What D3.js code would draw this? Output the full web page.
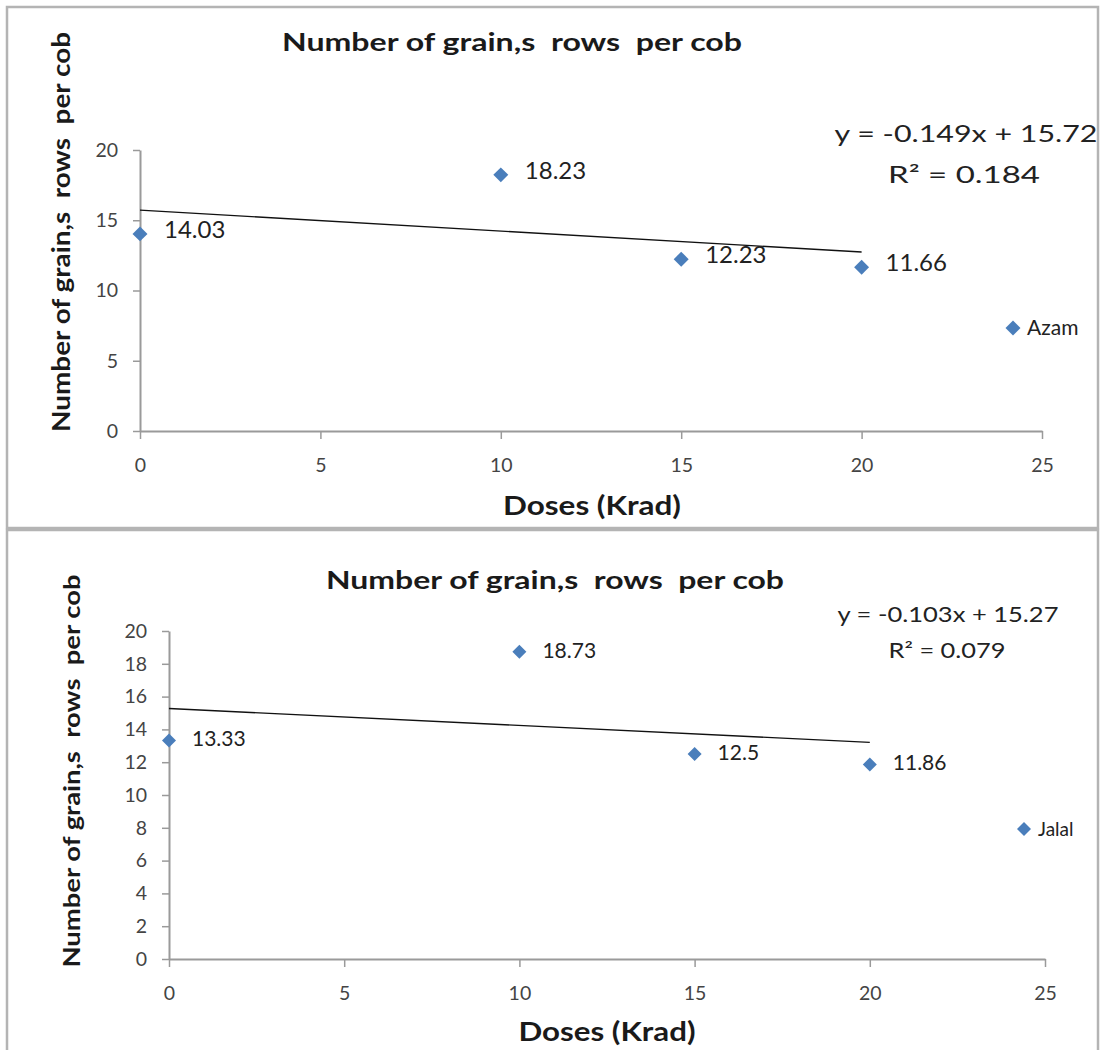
<!DOCTYPE html>
<html>
<head>
<meta charset="utf-8">
<script src="https://cdn.jsdelivr.net/npm/d3@7"></script>
<style>
  body { margin: 0; background: #fff; }
  svg { display: block; }
  text { font-family: Lato, "Open Sans", sans-serif; white-space: pre; }
</style>
</head>
<body>
<div id="chart"></div>
<script>
const WIDTH = 1100
const HEIGHT = 1050

// values
const doses = [0, 10, 15, 20]
const azamRows = [14.03, 18.23, 12.23, 11.66]
const jalalRows = [13.33, 18.73, 12.5, 11.86]
const azamTrend = [-0.149, 15.72]   // slope, intercept
const jalalTrend = [-0.103, 15.27]
const azamR2 = "0.184"
const jalalR2 = "0.079"
const xTicks = [0, 5, 10, 15, 20, 25]
const azamYTicks = [0, 5, 10, 15, 20]
const jalalYTicks = [0, 2, 4, 6, 8, 10, 12, 14, 16, 18, 20]
const chartTitle = "Number of grain,s  rows  per cob"
const yTitle = "Number of grain,s  rows  per cob"
const xTitle = "Doses (Krad)"

const BLUE = '#4a7ebb'
const AXIS = '#9a9a9a'

var svg = d3.select("#chart").append("svg")
    .attr("width", WIDTH)
    .attr("height", HEIGHT)

const drawPanel = (p) => {
    var g = svg.append("g")

    // panel frame
    g.append("rect")
        .attr("x", p.box[0]).attr("y", p.box[1])
        .attr("width", p.box[2] - p.box[0]).attr("height", p.box[3] - p.box[1])
        .attr("fill", "none")
        .attr("stroke", "#b4b4b4")
        .attr("stroke-width", 2.5)

    var xScale = d3.scaleLinear().domain([0, 25]).range(p.xRange)
    var yScale = d3.scaleLinear().domain([0, 20]).range(p.yRange)

    // axes
    var yAxis = g.append("g")
        .attr("transform", `translate(${p.xRange[0]},0)`)
        .call(d3.axisLeft(yScale).tickValues(p.yTicks).tickSize(7).tickPadding(15).tickSizeOuter(0))
    var xAxis = g.append("g")
        .attr("transform", `translate(0,${p.yRange[0]})`)
        .call(d3.axisBottom(xScale).tickValues(xTicks).tickSize(8).tickPadding(19).tickSizeOuter(0))
    ;[xAxis, yAxis].forEach(ax => {
        ax.select(".domain").attr("stroke", AXIS).attr("stroke-width", 2)
        ax.selectAll(".tick line").attr("stroke", AXIS).attr("stroke-width", 1.5)
        ax.selectAll(".tick text")
            .attr("fill", "#444")
            .attr("font-size", p.tickSize + "px")
            .style("font-family", "Lato, sans-serif")
    })

    // linear trend line over the data range
    var slope = p.trend[0], intercept = p.trend[1]
    var ends = [d3.min(doses), d3.max(doses)]
    g.append("line")
        .attr("x1", xScale(ends[0])).attr("y1", yScale(slope * ends[0] + intercept))
        .attr("x2", xScale(ends[1])).attr("y2", yScale(slope * ends[1] + intercept))
        .attr("stroke", "#111")
        .attr("stroke-width", 1.4)

    var diamond = d3.symbol().type(d3.symbolSquare).size(p.marker)

    // points
    g.selectAll(".pt")
        .data(p.values)
        .enter()
        .append("path")
            .attr("class", "pt")
            .attr("d", diamond)
            .attr("fill", BLUE)
            .attr("transform", (d, i) => `translate(${xScale(doses[i])},${yScale(d)}) rotate(45)`)

    // data labels to the right of each point
    g.selectAll(".lbl")
        .data(p.values)
        .enter()
        .append("text")
            .attr("class", "lbl")
            .attr("x", (d, i) => xScale(doses[i]) + p.labelDx)
            .attr("y", d => yScale(d) + p.labelDy)
            .attr("font-size", p.labelSize + "px")
            .attr("fill", "#222")
            .text(d => String(d))

    // titles
    g.append("text")
        .attr("x", p.title[0]).attr("y", p.title[1])
        .attr("text-anchor", "middle")
        .attr("font-size", p.title[3] + "px")
        .attr("font-weight", "bold")
        .attr("fill", "#1a1a1a")
        .attr("textLength", p.title[2])
        .attr("lengthAdjust", "spacingAndGlyphs")
        .text(chartTitle)

    g.append("text")
        .attr("transform", `translate(${p.yTitle[0]},${p.yTitle[1]}) rotate(-90)`)
        .attr("text-anchor", "middle")
        .attr("font-size", p.yTitle[3] + "px")
        .attr("font-weight", "bold")
        .attr("fill", "#1a1a1a")
        .attr("textLength", p.yTitle[2])
        .attr("lengthAdjust", "spacingAndGlyphs")
        .text(yTitle)

    g.append("text")
        .attr("x", p.xTitle[0]).attr("y", p.xTitle[1])
        .attr("text-anchor", "middle")
        .attr("font-size", p.xTitle[3] + "px")
        .attr("font-weight", "bold")
        .attr("fill", "#1a1a1a")
        .attr("textLength", p.xTitle[2])
        .attr("lengthAdjust", "spacingAndGlyphs")
        .text(xTitle)

    // trend equation + R squared
    g.append("text")
        .attr("x", p.eq[0]).attr("y", p.eq[1])
        .attr("text-anchor", "middle")
        .attr("font-size", p.eq[3] + "px")
        .attr("fill", "#222")
        .attr("textLength", p.eq[2])
        .attr("lengthAdjust", "spacingAndGlyphs")
        .text(`y = ${slope}x + ${intercept}`)

    g.append("text")
        .attr("x", p.r2[0]).attr("y", p.r2[1])
        .attr("text-anchor", "middle")
        .attr("font-size", p.r2[3] + "px")
        .attr("fill", "#222")
        .attr("textLength", p.r2[2])
        .attr("lengthAdjust", "spacingAndGlyphs")
        .text(`R² = ${p.rsq}`)

    // legend
    var legend = g.append("g")
        .attr("transform", `translate(${p.legend[0]},${p.legend[1]})`)
    legend.append("path")
        .attr("d", diamond)
        .attr("fill", BLUE)
        .attr("transform", "rotate(45)")
    legend.append("text")
        .attr("x", 14)
        .attr("y", 7)
        .attr("font-size", p.legend[3] + "px")
        .attr("fill", "#222")
        .text(p.name)
}

drawPanel({
    name: "Azam", values: azamRows, trend: azamTrend, rsq: azamR2, yTicks: azamYTicks,
    box: [7, 7, 1098, 528], xRange: [140, 1042], yRange: [431, 150],
    tickSize: 19.5, marker: 112, labelSize: 24, labelDx: 24, labelDy: 4,
    title: [512, 51, 460, 25], yTitle: [70, 232, 400, 24], xTitle: [592, 515, 178, 27],
    eq: [966, 142, 263, 23], r2: [964, 183, 152, 23],
    legend: [1013, 328, 0, 21]
})

drawPanel({
    name: "Jalal", values: jalalRows, trend: jalalTrend, rsq: jalalR2, yTicks: jalalYTicks,
    box: [7, 530, 1098, 1060], xRange: [169, 1045], yRange: [959, 631],
    tickSize: 19.5, marker: 98, labelSize: 21, labelDx: 23, labelDy: 6,
    title: [555, 589, 458, 25], yTitle: [80, 771, 393, 23], xTitle: [607, 1041, 177, 27],
    eq: [948, 622, 221, 21], r2: [947, 658, 117, 21],
    legend: [1024, 829, 0, 19]
})
</script>
</body>
</html>
